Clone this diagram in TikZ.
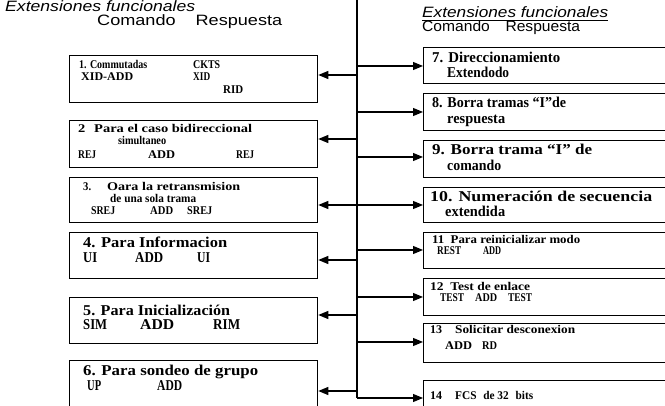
\documentclass[tikz,border=0pt]{standalone}
\usepackage{fontspec}
\setmainfont{Liberation Serif}
\newfontfamily\hdfont{Liberation Sans}
\usetikzlibrary{arrows.meta}
\newsavebox\fwbox
\newcommand\fw[2]{\sbox\fwbox{#2}\pgfmathsetmacro\fwsx{#1/\wd\fwbox}\scalebox{\fwsx}[1]{\usebox\fwbox}}
\tikzset{
  box/.style={draw, line width=1.3pt, anchor=north west, inner sep=0pt},
  arr/.style={line width=1.1pt, -{Triangle[length=10pt,width=8pt]}},
  tx/.style={anchor=west, inner sep=0pt},
  sm/.style={tx, text height=8pt, text depth=2.4pt, font=\bfseries\fontsize{11.8}{12}\selectfont},
  lg/.style={tx, text height=10.2pt, text depth=3pt, font=\bfseries\fontsize{15}{16}\selectfont},
  hd/.style={tx, text height=10.5pt, text depth=3pt, font=\hdfont\fontsize{15}{16}\selectfont},
}
\begin{document}
\begin{tikzpicture}[x=1pt,y=-1pt]
\clip (0,0) rectangle (665,406);
\fill[white] (0,0) rectangle (665,406);

% headings
\node[hd] (hl1) at (5,8) {\fw{190}{\itshape Extensiones funcionales}};
\node[hd] (hl2) at (97,22) {\fw{185}{Comando\hspace{1.1em}Respuesta}};
\node[hd] (hr1) at (422,14) {\fw{186}{\itshape Extensiones funcionales}};
\node[hd] (hr2) at (422,28) {\fw{158}{Comando\hspace{1em}Respuesta}};
\draw[line width=0.5pt] (hr1.south west) ++(0,-0.5) -- ++(186,0);

% trunk
\coordinate (top) at (357,0);
\coordinate (bot) at (357,398);
\draw[line width=1.2pt] (top) -- (bot);

% left boxes
\node[box, minimum width=248pt, minimum height=47pt] (b1) at (69,55) {};
\node[box, minimum width=248pt, minimum height=47pt] (b2) at (69,120) {};
\node[box, minimum width=248pt, minimum height=45pt] (b3) at (69,177) {};
\node[box, minimum width=248pt, minimum height=46pt] (b4) at (69,232) {};
\node[box, minimum width=248pt, minimum height=46pt] (b5) at (69,297) {};
\node[box, minimum width=248pt, minimum height=60pt] (b6) at (69,360) {};

% right boxes
\node[box, minimum width=260pt, minimum height=36pt] (b7) at (423,47) {};
\node[box, minimum width=260pt, minimum height=37pt] (b8) at (423,93) {};
\node[box, minimum width=260pt, minimum height=37pt] (b9) at (423,140) {};
\node[box, minimum width=260pt, minimum height=35pt] (b10) at (423,187) {};
\node[box, minimum width=260pt, minimum height=36pt] (b11) at (423,232) {};
\node[box, minimum width=260pt, minimum height=37pt] (b12) at (423,278) {};
\node[box, minimum width=260pt, minimum height=39pt] (b13) at (423,323) {};
\node[box, minimum width=260pt, minimum height=40pt] (b14) at (423,380) {};

% connectors to the left
\foreach \n/\y in {1/75, 2/139, 3/205, 4/260, 5/315, 6/391} {
  \coordinate (l\n) at (357,\y);
  \draw[arr] (l\n) -- (b\n.east |- l\n);
}
% connectors to the right
\foreach \n/\y in {7/66, 8/112, 9/157, 10/205, 11/250, 12/297, 13/342, 14/398} {
  \coordinate (r\n) at (357,\y);
  \draw[arr] (r\n) -- (b\n.west |- r\n);
}

% box 1
\node[sm] (t1a) at (79,66) {\fw{68}{1. Commutadas}};
\node[sm] (t1b) at (193,66) {\fw{27}{CKTS}};
\node[sm] (t1c) at (81,78) {\fw{52}{XID-ADD}};
\node[sm] (t1d) at (193,78) {\fw{17}{XID}};
\node[sm] (t1e) at (223,91) {\fw{20}{RID}};
% box 2
\node[sm] (t2a) at (78,130) {\fw{174}{2\hspace{0.6em}Para el caso bidireccional}};
\node[sm] (t2b) at (118,142) {\fw{48}{simultaneo}};
\node[sm] (t2c) at (78,156) {\fw{18}{REJ}};
\node[sm] (t2d) at (148,156) {\fw{27}{ADD}};
\node[sm] (t2e) at (236,156) {\fw{18}{REJ}};
% box 3
\node[sm] (t3a) at (83,188) {\fw{8}{3.}};
\node[sm] (t3b) at (107,188) {\fw{133}{Oara la retransmision}};
\node[sm] (t3c) at (110,200) {\fw{86}{de una sola trama}};
\node[sm] (t3d) at (91,212) {\fw{24}{SREJ}};
\node[sm] (t3e) at (150,212) {\fw{23}{ADD}};
\node[sm] (t3f) at (187,212) {\fw{25}{SREJ}};
% box 4
\node[lg] (t4a) at (83,244) {\fw{144}{4. Para Informacion}};
\node[lg] (t4b) at (83,259) {\fw{14}{UI}};
\node[lg] (t4c) at (135,259) {\fw{28}{ADD}};
\node[lg] (t4d) at (197,259) {\fw{13}{UI}};
% box 5
\node[lg] (t5a) at (83,312) {\fw{147}{5. Para Inicialización}};
\node[lg] (t5b) at (83,326) {\fw{24}{SIM}};
\node[lg] (t5c) at (140,326) {\fw{34}{ADD}};
\node[lg] (t5d) at (213,326) {\fw{27}{RIM}};
% box 6
\node[lg] (t6a) at (83,372) {\fw{175}{6. Para sondeo de grupo}};
\node[lg] (t6b) at (87,387) {\fw{14}{UP}};
\node[lg] (t6c) at (157,387) {\fw{25}{ADD}};

% box 7
\node[lg] (t7a) at (432,59) {\fw{128}{7. Direccionamiento}};
\node[lg] (t7b) at (447,74) {\fw{62}{Extendodo}};
% box 8
\node[lg] (t8a) at (432,104) {\fw{134}{8. Borra tramas “I”de}};
\node[lg] (t8b) at (447,120) {\fw{58}{respuesta}};
% box 9
\node[lg] (t9a) at (432,151) {\fw{160}{9. Borra trama “I” de}};
\node[lg] (t9b) at (447,167) {\fw{54}{comando}};
% box 10
\node[lg] (t10a) at (430,198) {\fw{222}{10. Numeración de secuencia}};
\node[lg] (t10b) at (445,213) {\fw{60}{extendida}};
% box 11
\node[sm] (t11a) at (432,241) {\fw{148}{11\hspace{0.5em}Para reinicializar modo}};
\node[sm] (t11b) at (437,252) {\fw{24}{REST}};
\node[sm] (t11c) at (483,252) {\fw{18}{ADD}};
% box 12
\node[sm] (t12a) at (430,288) {\fw{100}{12\hspace{0.5em}Test de enlace}};
\node[sm] (t12b) at (440,299) {\fw{24}{TEST}};
\node[sm] (t12c) at (475,299) {\fw{22}{ADD}};
\node[sm] (t12d) at (508,299) {\fw{24}{TEST}};
% box 13
\node[sm] (t13a) at (430,331) {\fw{12}{13}};
\node[sm] (t13b) at (455,331) {\fw{120}{Solicitar desconexion}};
\node[sm] (t13c) at (445,347) {\fw{27}{ADD}};
\node[sm] (t13d) at (482,347) {\fw{15}{RD}};
% box 14
\node[sm] (t14a) at (430,397) {\fw{12}{14}};
\node[sm] (t14b) at (455,397) {\fw{78}{FCS\hspace{0.6em}de 32\hspace{0.6em}bits}};
\end{tikzpicture}
\end{document}
